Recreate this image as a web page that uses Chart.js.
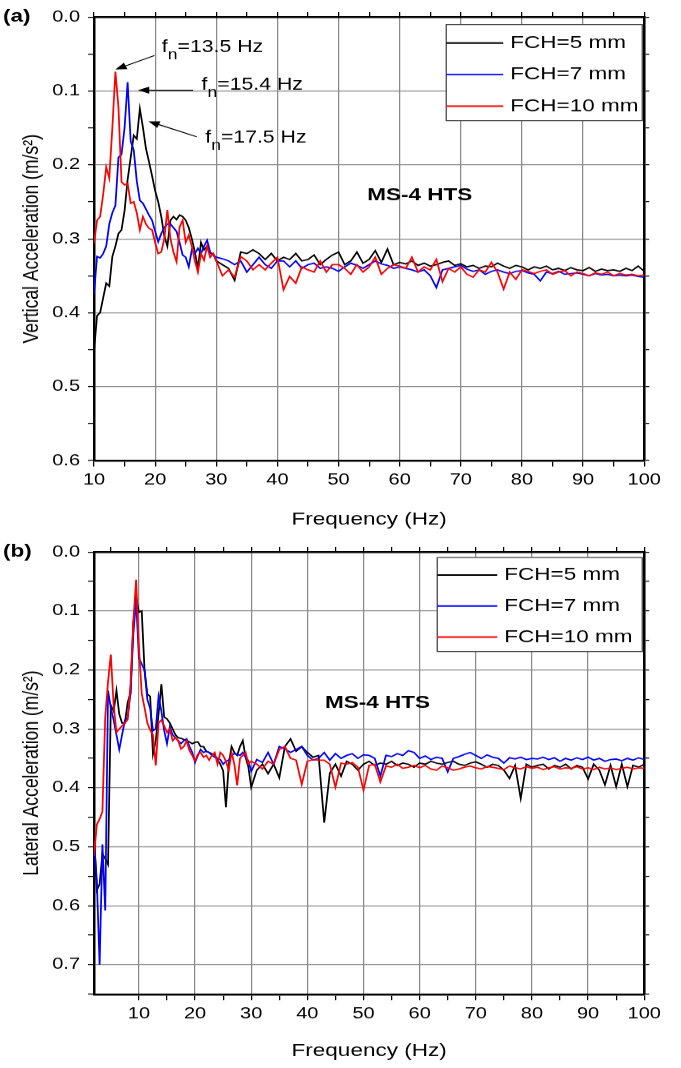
<!DOCTYPE html>
<html>
<head>
<meta charset="utf-8">
<script src="https://cdn.jsdelivr.net/npm/chart.js@4.4.0/dist/chart.umd.min.js"></script>
<style>
  html, body { margin: 0; padding: 0; background: #fff; }
  #wrap { position: relative; width: 681px; height: 1068px; }
  .panel { position: absolute; left: 0; width: 681px; }
</style>
</head>
<body>
<div id="wrap">
  <div class="panel" style="top:0;height:535px"><canvas id="chartA" width="545" height="535" style="width:681px;height:535px"></canvas></div>
  <div class="panel" style="top:535px;height:533px"><canvas id="chartB" width="545" height="533" style="width:681px;height:533px"></canvas></div>
</div>
<script>
// ---- data ----
var seriesLabels = ["FCH=5 mm", "FCH=7 mm", "FCH=10 mm"];
var seriesColors = ["#000000", "#0000ff", "#ff0000"];

// panel (a) vertical
var freqA = [10,10.5,11,11.5,12,12.5,13,13.5,14,14.5,15,15.5,16,16.5,17,17.5,18,18.5,19,19.5,20,20.5,21,21.5,22,22.5,23,23.5,24,24.5,25,25.5,26,26.5,27,27.5,28,28.5,29,29.5,30,
  31,32,33,34,35,36,37,38,39,40,41,42,43,44,45,46,47,48,49,50,51,52,53,54,55,56,57,58,59,60,61,62,63,64,65,66,67,68,69,70,
  71,72,73,74,75,76,77,78,79,80,81,82,83,84,85,86,87,88,89,90,91,92,93,94,95,96,97,98,99,100];
var vert5 = [0.452,0.404,0.400,0.380,0.360,0.364,0.324,0.310,0.293,0.288,0.262,0.220,0.190,0.160,0.165,0.124,0.149,0.178,0.196,0.215,0.235,0.250,0.270,0.296,0.310,0.275,0.270,0.274,0.268,0.270,0.275,0.285,0.300,0.318,0.340,0.305,0.315,0.310,0.320,0.320,0.330,
  0.335,0.340,0.356,0.318,0.320,0.315,0.320,0.328,0.320,0.330,0.325,0.328,0.320,0.330,0.328,0.322,0.335,0.328,0.322,0.318,
  0.335,0.330,0.318,0.333,0.328,0.316,0.332,0.314,0.335,0.332,0.334,0.330,0.336,0.333,0.337,0.335,0.332,0.330,0.336,0.334,
  0.338,0.336,0.340,0.337,0.338,0.333,0.337,0.340,0.336,0.338,0.342,0.338,0.340,0.337,0.342,0.340,0.343,0.339,0.342,0.343,
  0.339,0.344,0.341,0.343,0.342,0.344,0.340,0.343,0.337,0.344];
var vert7 = [0.374,0.324,0.326,0.320,0.310,0.280,0.265,0.255,0.190,0.186,0.150,0.088,0.168,0.180,0.222,0.248,0.252,0.260,0.268,0.275,0.290,0.304,0.293,0.285,0.280,0.280,0.285,0.290,0.305,0.322,0.325,0.338,0.315,0.320,0.313,0.320,0.310,0.302,0.318,0.322,0.325,
  0.327,0.330,0.335,0.330,0.345,0.335,0.325,0.335,0.340,0.330,0.330,0.338,0.330,0.340,0.335,0.333,0.340,0.338,0.340,0.344,
  0.338,0.333,0.336,0.340,0.335,0.330,0.334,0.336,0.340,0.338,0.340,0.342,0.345,0.342,0.350,0.366,0.342,0.340,0.338,0.336,
  0.341,0.344,0.342,0.348,0.344,0.342,0.345,0.347,0.344,0.343,0.346,0.348,0.357,0.345,0.347,0.344,0.348,0.347,0.346,0.348,
  0.350,0.347,0.349,0.348,0.350,0.349,0.350,0.349,0.351,0.352];
var vert10 = [0.306,0.275,0.270,0.240,0.203,0.218,0.150,0.074,0.122,0.223,0.227,0.225,0.252,0.250,0.265,0.288,0.270,0.280,0.286,0.288,0.305,0.320,0.318,0.300,0.261,0.300,0.318,0.331,0.284,0.275,0.305,0.295,0.310,0.330,0.345,0.320,0.329,0.310,0.325,0.320,0.330,
  0.350,0.342,0.352,0.324,0.330,0.342,0.335,0.342,0.333,0.325,0.369,0.351,0.360,0.338,0.342,0.345,0.330,0.345,0.335,0.335,
  0.340,0.348,0.335,0.345,0.338,0.325,0.348,0.340,0.335,0.337,0.340,0.325,0.345,0.338,0.342,0.328,0.358,0.340,0.345,0.338,
  0.348,0.352,0.342,0.345,0.332,0.345,0.368,0.345,0.355,0.342,0.344,0.347,0.344,0.342,0.348,0.345,0.343,0.350,0.345,0.347,
  0.350,0.346,0.348,0.345,0.350,0.347,0.349,0.348,0.350,0.349];

// panel (b) lateral
var freqB = [2,2.5,3,3.5,4,4.5,5,5.5,6,6.5,7,7.5,8,8.5,9,9.5,10,10.5,11,11.5,12,12.5,13,13.5,14,14.5,15,15.5,16,16.5,17,17.5,18,18.5,19,19.5,20,20.5,21,21.5,22,22.5,23,23.5,24,24.5,25,25.5,26,26.5,27,27.5,28,28.5,29,29.5,30,
  31,32,33,34,35,36,37,38,39,40,41,42,43,44,45,46,47,48,49,50,51,52,53,54,55,56,57,58,59,60,61,62,63,64,65,66,67,68,69,70,
  71,72,73,74,75,76,77,78,79,80,81,82,83,84,85,86,87,88,89,90,91,92,93,94,95,96,97,98,99,100];
var lat5 = [0.478,0.574,0.563,0.512,0.520,0.530,0.260,0.270,0.235,0.275,0.290,0.290,0.255,0.240,0.120,0.076,0.102,0.100,0.200,0.241,0.245,0.343,0.320,0.274,0.224,0.280,0.283,0.290,0.300,0.310,0.315,0.316,0.318,0.320,0.322,0.325,0.323,0.322,0.330,0.330,0.338,0.340,0.342,0.345,0.353,0.360,0.371,0.433,0.360,0.330,0.340,0.345,0.330,0.320,0.348,0.365,0.399,
  0.370,0.360,0.376,0.360,0.383,0.330,0.317,0.338,0.330,0.340,0.348,0.345,0.459,0.375,0.360,0.380,0.355,0.360,0.370,0.360,
  0.355,0.362,0.358,0.360,0.355,0.362,0.358,0.360,0.365,0.358,0.360,0.355,0.358,0.360,0.357,0.355,0.360,0.362,0.358,0.356,
  0.360,0.365,0.360,0.362,0.370,0.384,0.362,0.418,0.360,0.365,0.362,0.360,0.368,0.362,0.365,0.360,0.368,0.362,0.365,0.385,
  0.360,0.370,0.395,0.362,0.398,0.360,0.398,0.362,0.365,0.360];
var lat7 = [0.489,0.557,0.700,0.496,0.608,0.235,0.265,0.285,0.310,0.335,0.310,0.286,0.280,0.240,0.140,0.082,0.180,0.190,0.200,0.250,0.265,0.303,0.300,0.245,0.270,0.303,0.325,0.297,0.310,0.315,0.320,0.325,0.320,0.317,0.330,0.340,0.357,0.345,0.335,0.340,0.338,0.340,0.345,0.348,0.350,0.352,0.360,0.355,0.353,0.345,0.342,0.343,0.345,0.340,0.348,0.354,0.372,
  0.352,0.357,0.340,0.360,0.330,0.334,0.340,0.335,0.330,0.345,0.353,0.350,0.340,0.353,0.342,0.350,0.345,0.342,0.350,0.344,
  0.345,0.350,0.380,0.345,0.347,0.342,0.345,0.337,0.340,0.350,0.346,0.352,0.348,0.350,0.373,0.350,0.347,0.343,0.340,0.345,
  0.350,0.344,0.348,0.350,0.358,0.349,0.351,0.348,0.352,0.350,0.351,0.348,0.352,0.349,0.355,0.350,0.353,0.349,0.352,0.348,
  0.353,0.350,0.355,0.352,0.351,0.354,0.350,0.353,0.349,0.352];
var lat10 = [0.515,0.462,0.453,0.440,0.280,0.220,0.174,0.260,0.306,0.300,0.295,0.290,0.284,0.225,0.120,0.047,0.161,0.240,0.264,0.290,0.302,0.310,0.362,0.290,0.285,0.295,0.306,0.300,0.320,0.315,0.320,0.334,0.330,0.320,0.337,0.345,0.354,0.343,0.340,0.348,0.345,0.353,0.345,0.340,0.360,0.340,0.345,0.355,0.370,0.340,0.360,0.396,0.350,0.345,0.340,0.360,0.355,
  0.360,0.368,0.355,0.360,0.335,0.330,0.350,0.353,0.394,0.355,0.352,0.353,0.353,0.360,0.399,0.358,0.360,0.357,0.365,0.404,
  0.362,0.360,0.390,0.363,0.365,0.360,0.367,0.365,0.362,0.366,0.362,0.368,0.370,0.363,0.366,0.370,0.368,0.365,0.363,0.366,
  0.368,0.364,0.365,0.367,0.369,0.363,0.366,0.368,0.364,0.367,0.365,0.369,0.366,0.364,0.368,0.366,0.367,0.364,0.368,0.366,
  0.369,0.365,0.368,0.366,0.369,0.367,0.365,0.368,0.366,0.367];

// annotations (data coordinates)
var peakText = ["=13.5 Hz", "=15.4 Hz", "=17.5 Hz"];
var peakLabelAt = [[21.1, 0.041], [27.6, 0.092], [28.2, 0.164]];
var peakArrowFrom = [[19.9, 0.052], [26.2, 0.099], [26.8, 0.162]];
var peakArrowTo = [[13.5, 0.071], [17.2, 0.099], [18.9, 0.141]];

// the original figure is wider than tall in its lettering: draw on a narrower
// logical canvas and let the bitmap spread it out horizontally
var S = 1.25;
var FONT = '"Liberation Sans", Arial, sans-serif';
Chart.defaults.font.family = FONT;
Chart.defaults.color = "#000";

function toPoints(xs, ys) {
  var pts = [];
  for (var i = 0; i < xs.length; i++) pts.push({ x: xs[i], y: ys[i] });
  return pts;
}

function isMult(v, step) {
  return Math.abs(v / step - Math.round(v / step)) < 1e-6;
}

var extrasPlugin = {
  id: "extras",
  afterDraw: function(chart, args, opts) {
    var ctx = chart.ctx, a = chart.chartArea;
    var xs = chart.scales.x, ys = chart.scales.y;
    ctx.save();

    // panel letter
    ctx.fillStyle = "#000";
    ctx.font = "bold 18px " + FONT;
    ctx.textBaseline = "middle";
    ctx.textAlign = "left";
    ctx.fillText(opts.panel, 3 / S, a.top);

    // sample name
    ctx.font = "bold 18px " + FONT;
    ctx.textAlign = "center";
    ctx.fillText("MS-4 HTS", xs.getPixelForValue(opts.note[0]), ys.getPixelForValue(opts.note[1]));

    // peak labels with arrows
    if (opts.peaks) {
      ctx.textAlign = "left";
      for (var i = 0; i < peakText.length; i++) {
        var lx = xs.getPixelForValue(peakLabelAt[i][0]), ly = ys.getPixelForValue(peakLabelAt[i][1]);
        ctx.font = "17px " + FONT;
        ctx.fillText("f", lx, ly);
        var w = ctx.measureText("f").width;
        ctx.font = "14px " + FONT;
        ctx.fillText("n", lx + w, ly + 8);
        w += ctx.measureText("n").width;
        ctx.font = "17px " + FONT;
        ctx.fillText(peakText[i], lx + w, ly);

        var x1 = xs.getPixelForValue(peakArrowFrom[i][0]), y1 = ys.getPixelForValue(peakArrowFrom[i][1]);
        var x2 = xs.getPixelForValue(peakArrowTo[i][0]), y2 = ys.getPixelForValue(peakArrowTo[i][1]);
        var ang = Math.atan2(y2 - y1, x2 - x1);
        ctx.strokeStyle = "#000";
        ctx.lineWidth = 1;
        ctx.beginPath();
        ctx.moveTo(x1, y1);
        ctx.lineTo(x2 - 7 * Math.cos(ang), y2 - 7 * Math.sin(ang));
        ctx.stroke();
        ctx.beginPath();
        ctx.moveTo(x2, y2);
        ctx.lineTo(x2 - 9 * Math.cos(ang) + 3.5 * Math.sin(ang), y2 - 9 * Math.sin(ang) - 3.5 * Math.cos(ang));
        ctx.lineTo(x2 - 9 * Math.cos(ang) - 3.5 * Math.sin(ang), y2 - 9 * Math.sin(ang) + 3.5 * Math.cos(ang));
        ctx.closePath();
        ctx.fillStyle = "#000";
        ctx.fill();
      }
    }

    // legend box (widths given in screen pixels)
    var lg = opts.legend;
    var bw = lg.width / S, bx = a.right - lg.right / S - bw, by = a.top + lg.top;
    ctx.fillStyle = "#fff";
    ctx.fillRect(bx, by, bw, lg.height);
    ctx.strokeStyle = "#444";
    ctx.lineWidth = 1;
    ctx.strokeRect(bx, by + 0.5, bw, lg.height);
    ctx.font = "18px " + FONT;
    ctx.textAlign = "left";
    chart.data.datasets.forEach(function(ds, i) {
      var cy = by + lg.first + i * lg.gap;
      ctx.strokeStyle = ds.borderColor;
      ctx.lineWidth = 1.5;
      ctx.beginPath();
      ctx.moveTo(bx, cy);
      ctx.lineTo(bx + lg.lineLen / S, cy);
      ctx.stroke();
      ctx.fillStyle = "#000";
      ctx.fillText(ds.label, bx + (lg.lineLen + 7) / S, cy);
    });
    ctx.restore();
  }
};

function makeChart(id, freq, series, xMin, yMax, yTitle, axisH, titlePad, extras) {
  var datasets = series.map(function(vals, i) {
    return {
      label: seriesLabels[i],
      data: toPoints(freq, vals),
      borderColor: seriesColors[i],
      borderWidth: 1.4,
      pointRadius: 0,
      tension: 0,
      order: 2 - i
    };
  });
  var gridGray = "#8a8a8a";
  var keep5 = function(s) { s.ticks = s.ticks.filter(function(t) { return isMult(t.value, 5); }); };
  var xBase = {
    type: "linear", min: xMin, max: 100,
    afterBuildTicks: keep5,
    border: { color: "#000", width: 2 }
  };
  var yBase = {
    type: "linear", min: 0, max: yMax, reverse: true,
    border: { color: "#000", width: 2 }
  };
  return new Chart(document.getElementById(id), {
    type: "line",
    data: { datasets: datasets },
    options: {
      responsive: false,
      devicePixelRatio: S,
      animation: false,
      events: [],
      layout: { padding: 0 },
      plugins: { legend: { display: false }, tooltip: { enabled: false }, extras: extras },
      scales: {
        x: Object.assign({}, xBase, {
          position: "bottom",
          ticks: {
            stepSize: 5, autoSkip: false, maxRotation: 0, padding: 4,
            font: { size: 16 }, color: "#000",
            callback: function(v) { return isMult(v, 10) ? String(v) : ""; }
          },
          grid: {
            color: function(c) { return c.tick && isMult(c.tick.value, 10) ? gridGray : "rgba(0,0,0,0)"; },
            tickColor: "#000", tickLength: 6, lineWidth: 1
          },
          title: { display: true, text: "Frequency (Hz)", font: { size: 18 }, color: "#000", padding: { top: 0, bottom: titlePad } },
          afterFit: function(s) { s.height = axisH; }
        }),
        x2: Object.assign({}, xBase, {
          position: "top",
          ticks: { stepSize: 5, display: false },
          grid: { drawOnChartArea: false, tickColor: "#000", tickLength: 5 },
          afterFit: function(s) { s.height = 17; }
        }),
        y: Object.assign({}, yBase, {
          position: "left",
          ticks: {
            stepSize: 0.05, autoSkip: false, padding: 6.4,
            font: { size: 16 }, color: "#000",
            callback: function(v) { return isMult(v, 0.1) ? v.toFixed(1) : ""; }
          },
          grid: {
            color: function(c) { return c.tick && isMult(c.tick.value, 0.1) ? gridGray : "rgba(0,0,0,0)"; },
            tickColor: "#000", tickLength: 6 / S, lineWidth: 1
          },
          title: { display: true, text: yTitle, font: { size: 17.5 }, color: "#000", padding: { top: 15, bottom: 0 } },
          afterFit: function(s) { s.width = 94 / S; }
        }),
        y2: Object.assign({}, yBase, {
          position: "right",
          ticks: { stepSize: 0.05, display: false },
          grid: { drawOnChartArea: false, tickColor: "#000", tickLength: 5 / S },
          afterFit: function(s) { s.width = 37 / S; }
        })
      }
    },
    plugins: [extrasPlugin]
  });
}

makeChart("chartA", freqA, [vert5, vert7, vert10], 10, 0.6, "Vertical Acceleration (m/s\u00B2)", 75, 5, {
  panel: "(a)", note: [63.3, 0.2415], peaks: true,
  legend: { right: 2, width: 196, top: 7, height: 96, first: 19, gap: 31.5, lineLen: 57 }
});
makeChart("chartB", freqB, [lat5, lat7, lat10], 2, 0.75, "Lateral Acceleration (m/s\u00B2)", 74, 6, {
  panel: "(b)", note: [52.5, 0.256], peaks: false,
  legend: { right: 2, width: 205, top: 5, height: 94, first: 18, gap: 31, lineLen: 60 }
});
</script>
</body>
</html>
